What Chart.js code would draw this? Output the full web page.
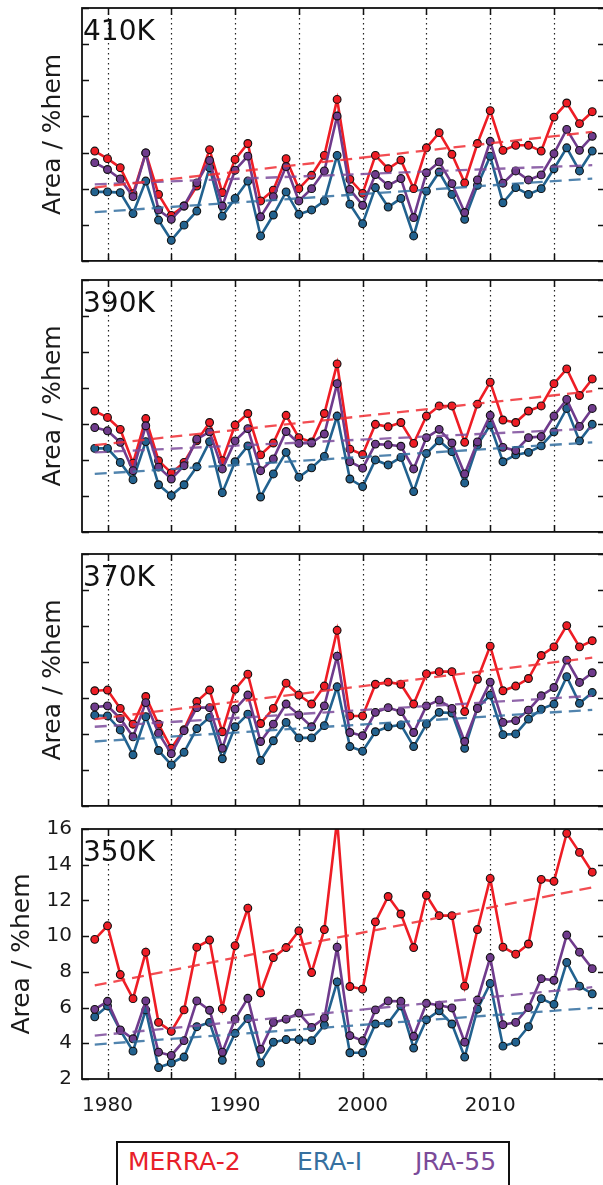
<!DOCTYPE html>
<html>
<head>
<meta charset="utf-8">
<script src="https://cdn.jsdelivr.net/npm/chart.js@4.4.1/dist/chart.umd.min.js"></script>
<style>
  html, body { margin: 0; padding: 0; background: #fff; overflow: hidden; }
  body { width: 603px; height: 1185px; position: relative; font-family: 'DejaVu Sans', sans-serif; }
  canvas { position: absolute; left: 0; }
  #legend { position: absolute; left: 116px; top: 1141px; width: 390px; height: 70px; border: 2px solid #111; }
  #legend span { position: absolute; top: 6px; font-size: 25px; line-height: 25px; }
</style>
</head>
<body>
<canvas id="c410" width="620" height="266" style="top:0px"></canvas>
<canvas id="c390" width="620" height="265" style="top:272px"></canvas>
<canvas id="c370" width="620" height="265" style="top:546px"></canvas>
<canvas id="c350" width="620" height="312" style="top:807px"></canvas>
<div id="legend">
  <span style="left:10px;color:#e8202a">MERRA-2</span>
  <span style="left:179px;color:#36709f">ERA-I</span>
  <span style="left:297px;color:#7b4b99">JRA-55</span>
</div>
<script>
// Area time series, 1979-2018

const YEARS = [1979, 1980, 1981, 1982, 1983, 1984, 1985, 1986, 1987, 1988,
               1989, 1990, 1991, 1992, 1993, 1994, 1995, 1996, 1997, 1998,
               1999, 2000, 2001, 2002, 2003, 2004, 2005, 2006, 2007, 2008,
               2009, 2010, 2011, 2012, 2013, 2014, 2015, 2016, 2017, 2018];

const X_TICKS = [1980, 1985, 1990, 1995, 2000, 2005, 2010, 2015];
const Y_TICKS_UPPER = [0, 1, 2, 3, 4, 5, 6, 7];   // unlabelled panels
const Y_TICKS_350 = [2, 4, 6, 8, 10, 12, 14, 16];

// 410K
const MERRA_410 = [3.04, 2.83, 2.58, 1.86, 2.99, 1.84, 1.26, 1.52, 2.07, 3.08,
                   1.89, 2.81, 3.25, 1.66, 1.96, 2.83, 2.00, 2.37, 2.92, 4.47,
                   2.26, 1.87, 2.92, 2.55, 2.79, 2.00, 3.13, 3.55, 2.95, 2.16,
                   3.25, 4.16, 3.06, 3.20, 3.20, 3.04, 3.98, 4.37, 3.80, 4.13];
const ERAI_410  = [1.91, 1.91, 1.89, 1.31, 2.21, 1.13, 0.57, 0.99, 1.38, 2.58,
                   1.24, 1.73, 2.21, 0.69, 1.27, 1.91, 1.29, 1.41, 1.66, 2.92,
                   1.57, 1.03, 2.03, 1.49, 1.73, 0.69, 1.93, 2.46, 1.84, 1.15,
                   2.09, 2.90, 1.61, 2.03, 1.84, 2.00, 2.55, 3.13, 2.49, 3.04];
const JRA_410   = [2.72, 2.53, 2.27, 1.78, 2.99, 1.41, 1.15, 1.52, 2.16, 2.78,
                   1.52, 2.51, 2.90, 1.22, 1.78, 2.61, 1.66, 2.00, 2.49, 4.01,
                   1.98, 1.54, 2.39, 2.09, 2.28, 1.20, 2.44, 2.74, 2.14, 1.34,
                   2.24, 3.31, 2.15, 2.49, 2.24, 2.38, 2.97, 3.64, 3.06, 3.45];
const MERRA_410_TREND = [2.03, 3.57];
const ERAI_410_TREND  = [1.35, 2.28];
const JRA_410_TREND   = [2.12, 2.65];

// 390K
const MERRA_390 = [3.36, 3.18, 2.85, 1.91, 3.15, 1.98, 1.64, 1.93, 2.53, 3.04,
                   1.98, 2.97, 3.29, 2.14, 2.47, 3.24, 2.62, 2.50, 3.29, 4.67,
                   2.30, 2.15, 2.99, 2.92, 3.04, 2.46, 3.22, 3.50, 3.50, 2.49,
                   3.55, 4.16, 3.11, 3.04, 3.36, 3.50, 4.12, 4.53, 3.79, 4.25];
const ERAI_390  = [2.32, 2.32, 1.93, 1.45, 2.51, 1.31, 1.01, 1.31, 1.81, 2.51,
                   1.09, 1.95, 2.39, 0.97, 1.61, 2.21, 1.52, 1.78, 2.10, 3.22,
                   1.47, 1.26, 2.00, 1.86, 2.07, 1.12, 2.18, 2.53, 2.23, 1.36,
                   2.41, 2.97, 1.95, 2.14, 2.21, 2.39, 2.78, 3.43, 2.53, 2.99];
const JRA_390   = [2.90, 2.81, 2.49, 1.70, 2.95, 1.80, 1.47, 1.84, 2.58, 2.78,
                   1.75, 2.53, 2.87, 1.70, 2.03, 2.79, 2.46, 2.47, 2.72, 4.12,
                   1.95, 1.77, 2.44, 2.42, 2.38, 1.75, 2.62, 2.85, 2.47, 1.61,
                   2.50, 3.24, 2.35, 2.26, 2.62, 2.65, 3.22, 3.68, 2.93, 3.43];
const MERRA_390_TREND = [2.41, 3.91];
const ERAI_390_TREND  = [1.61, 2.49];
const JRA_390_TREND   = [2.21, 2.87];

// 370K
const MERRA_370 = [3.20, 3.22, 2.71, 2.27, 3.04, 2.27, 1.60, 2.12, 2.90, 3.22,
                   2.06, 3.24, 3.66, 2.29, 2.71, 3.41, 3.08, 2.83, 3.33, 4.88,
                   2.50, 2.50, 3.38, 3.44, 3.38, 2.83, 3.67, 3.73, 3.73, 2.62,
                   3.52, 4.44, 3.20, 3.33, 3.54, 4.18, 4.42, 5.01, 4.42, 4.59];
const ERAI_370  = [2.52, 2.50, 2.11, 1.42, 2.48, 1.54, 1.14, 1.49, 2.15, 2.46,
                   1.31, 2.20, 2.55, 1.26, 1.81, 2.32, 1.89, 1.89, 2.23, 3.31,
                   1.65, 1.52, 2.06, 2.20, 2.25, 1.65, 2.27, 2.60, 2.58, 1.60,
                   2.72, 3.08, 1.98, 2.00, 2.41, 2.69, 2.83, 3.59, 2.85, 3.15];
const JRA_370   = [2.75, 2.78, 2.43, 1.92, 2.87, 2.02, 1.45, 2.09, 2.73, 2.73,
                   1.60, 2.69, 3.08, 1.79, 2.27, 2.83, 2.53, 2.20, 2.78, 4.16,
                   2.04, 1.95, 2.60, 2.73, 2.62, 2.04, 2.78, 2.94, 2.71, 1.79,
                   2.71, 3.44, 2.32, 2.37, 2.66, 3.06, 3.29, 4.05, 3.43, 3.70];
const MERRA_370_TREND = [2.41, 4.12];
const ERAI_370_TREND  = [1.79, 2.67];
const JRA_370_TREND   = [2.20, 3.06];

// 350K (labelled axis, %hem)
const MERRA_350 = [9.82, 10.58, 7.85, 6.50, 9.10, 5.17, 4.67, 5.87, 9.38, 9.78,
                   5.94, 9.47, 11.57, 6.83, 8.80, 9.36, 10.30, 7.96, 10.37, 16.5,
                   7.18, 7.03, 10.80, 12.22, 11.24, 9.36, 12.29, 11.15, 11.15, 7.20,
                   10.37, 13.23, 9.38, 8.99, 9.56, 13.18, 13.07, 15.76, 14.69, 13.58];
const ERAI_350  = [5.48, 6.09, 4.72, 3.56, 5.87, 2.64, 2.90, 3.23, 4.93, 5.17,
                   3.05, 4.56, 5.39, 2.90, 4.06, 4.21, 4.21, 4.15, 5.02, 7.44,
                   3.47, 3.47, 5.08, 5.13, 6.09, 3.73, 5.32, 5.82, 5.08, 3.23,
                   5.91, 7.35, 3.84, 4.06, 4.93, 6.50, 6.18, 8.53, 7.20, 6.77];
const JRA_350   = [5.90, 6.35, 4.75, 4.25, 6.37, 3.50, 3.32, 4.15, 6.37, 5.85,
                   3.50, 5.35, 6.52, 3.66, 5.17, 5.35, 5.69, 4.89, 5.41, 9.38,
                   4.43, 4.14, 5.87, 6.37, 6.35, 4.39, 6.24, 6.13, 5.98, 4.06,
                   6.42, 8.80, 5.04, 5.17, 6.00, 7.62, 7.53, 10.06, 9.10, 8.18];
const MERRA_350_TREND = [7.24, 12.73];
const ERAI_350_TREND  = [3.93, 5.98];
const JRA_350_TREND   = [4.43, 7.14];

const RED = '#ee1d25';
const BLUE = '#22628f';
const PURPLE = '#6f3b8c';
const RED_DASH = 'rgba(240, 45, 50, 0.85)';
const BLUE_DASH = 'rgba(50, 110, 160, 0.85)';
const PURPLE_DASH = 'rgba(125, 75, 155, 0.85)';
const FONT = 'DejaVu Sans';

function toPoints(values) {
    return YEARS.map((yr, i) => ({ x: yr, y: values[i] }));
}

function trendPoints(ends) {
    return [{ x: YEARS[0], y: ends[0] }, { x: YEARS[YEARS.length - 1], y: ends[1] }];
}

function seriesDataset(label, values, color, order) {
    return {
        label: label,
        data: toPoints(values),
        borderColor: color,
        backgroundColor: color,
        borderWidth: 2.6,
        pointRadius: 3.9,
        pointBorderWidth: 1.1,
        pointBorderColor: '#111',
        pointBackgroundColor: color,
        tension: 0,
        clip: 0,
        order: order
    };
}

function trendDataset(ends, color) {
    return {
        data: trendPoints(ends),
        borderColor: color,
        borderWidth: 2.3,
        borderDash: [12, 7],
        pointRadius: 0,
        tension: 0,
        clip: 0,
        order: -1
    };
}

// Frame, inward ticks, dotted year grid and the level label
const framePlugin = {
    id: 'frame',
    beforeDatasetsDraw(chart) {
        const { ctx, chartArea: a, scales: { x } } = chart;
        ctx.save();
        ctx.strokeStyle = '#222';
        ctx.lineWidth = 1.2;
        ctx.setLineDash([1.5, 3.5]);
        X_TICKS.forEach(v => {
            const px = Math.round(x.getPixelForValue(v)) + 0.5;
            ctx.beginPath();
            ctx.moveTo(px, a.top);
            ctx.lineTo(px, a.bottom);
            ctx.stroke();
        });
        ctx.restore();
    },
    afterDatasetsDraw(chart, args, opts) {
        const { ctx, chartArea: a, scales: { x, y } } = chart;
        const tl = 7;
        ctx.save();
        ctx.strokeStyle = '#111';
        ctx.lineWidth = 1.5;
        X_TICKS.forEach(v => {
            const px = Math.round(x.getPixelForValue(v)) + 0.5;
            ctx.beginPath();
            ctx.moveTo(px, a.bottom); ctx.lineTo(px, a.bottom - tl);
            ctx.moveTo(px, a.top); ctx.lineTo(px, a.top + tl);
            ctx.stroke();
        });
        opts.yTicks.forEach(v => {
            const py = Math.round(y.getPixelForValue(v)) + 0.5;
            ctx.beginPath();
            ctx.moveTo(a.left, py); ctx.lineTo(a.left + tl, py);
            ctx.moveTo(a.right, py); ctx.lineTo(a.right - tl, py);
            ctx.stroke();
        });
        ctx.lineWidth = 1.8;
        ctx.strokeRect(a.left, a.top, a.right - a.left, a.bottom - a.top);
        ctx.fillStyle = '#111';
        ctx.font = '28px "' + FONT + '"';
        ctx.textBaseline = 'alphabetic';
        ctx.fillText(opts.label, a.left + 1, a.top + 32);
        ctx.restore();
    }
};

function makePanel(id, label, merra, erai, jra, trends, yTicks, showLabels) {
    const ctx = document.getElementById(id).getContext('2d');
    new Chart(ctx, {
        type: 'line',
        data: {
            datasets: [
                trendDataset(trends[0], RED_DASH),
                trendDataset(trends[1], BLUE_DASH),
                trendDataset(trends[2], PURPLE_DASH),
                seriesDataset('JRA-55', jra, PURPLE, 0),
                seriesDataset('ERA-I', erai, BLUE, 1),
                seriesDataset('MERRA-2', merra, RED, 2)
            ]
        },
        options: {
            responsive: false,
            animation: false,
            devicePixelRatio: 1,
            layout: {
                padding: { left: 0, right: 15, top: showLabels ? 20 : 8, bottom: showLabels ? 0 : 4 }
            },
            scales: {
                x: {
                    type: 'linear',
                    min: 1978,
                    max: 2019,
                    afterBuildTicks: s => { s.ticks = X_TICKS.map(v => ({ value: v })); },
                    afterFit: s => { s.height = showLabels ? 40 : 0; },
                    grid: { display: false },
                    border: { display: false },
                    ticks: {
                        display: showLabels,
                        autoSkip: false,
                        maxRotation: 0,
                        padding: 7,
                        color: '#1a1a1a',
                        font: { family: FONT, size: 20 },
                        callback: v => (v % 10 === 0 ? String(v) : '')
                    }
                },
                y: {
                    min: yTicks[0],
                    max: yTicks[yTicks.length - 1],
                    afterBuildTicks: s => { s.ticks = yTicks.map(v => ({ value: v })); },
                    afterFit: s => { s.width = 82; },
                    grid: { display: false, drawTicks: false },
                    border: { display: false },
                    ticks: {
                        display: showLabels,
                        padding: 10,
                        color: '#1a1a1a',
                        font: { family: FONT, size: 20 }
                    },
                    title: {
                        display: true,
                        text: 'Area / %hem',
                        color: '#1a1a1a',
                        font: { family: FONT, size: 25 },
                        padding: { top: showLabels ? 7 : 38, bottom: 0 }
                    }
                }
            },
            plugins: {
                legend: { display: false },
                tooltip: { enabled: false },
                frame: { label: label, yTicks: yTicks }
            }
        },
        plugins: [framePlugin]
    });
}

makePanel('c410', '410K', MERRA_410, ERAI_410, JRA_410,
          [MERRA_410_TREND, ERAI_410_TREND, JRA_410_TREND], Y_TICKS_UPPER, false);
makePanel('c390', '390K', MERRA_390, ERAI_390, JRA_390,
          [MERRA_390_TREND, ERAI_390_TREND, JRA_390_TREND], Y_TICKS_UPPER, false);
makePanel('c370', '370K', MERRA_370, ERAI_370, JRA_370,
          [MERRA_370_TREND, ERAI_370_TREND, JRA_370_TREND], Y_TICKS_UPPER, false);
makePanel('c350', '350K', MERRA_350, ERAI_350, JRA_350,
          [MERRA_350_TREND, ERAI_350_TREND, JRA_350_TREND], Y_TICKS_350, true);
</script>
</body>
</html>
